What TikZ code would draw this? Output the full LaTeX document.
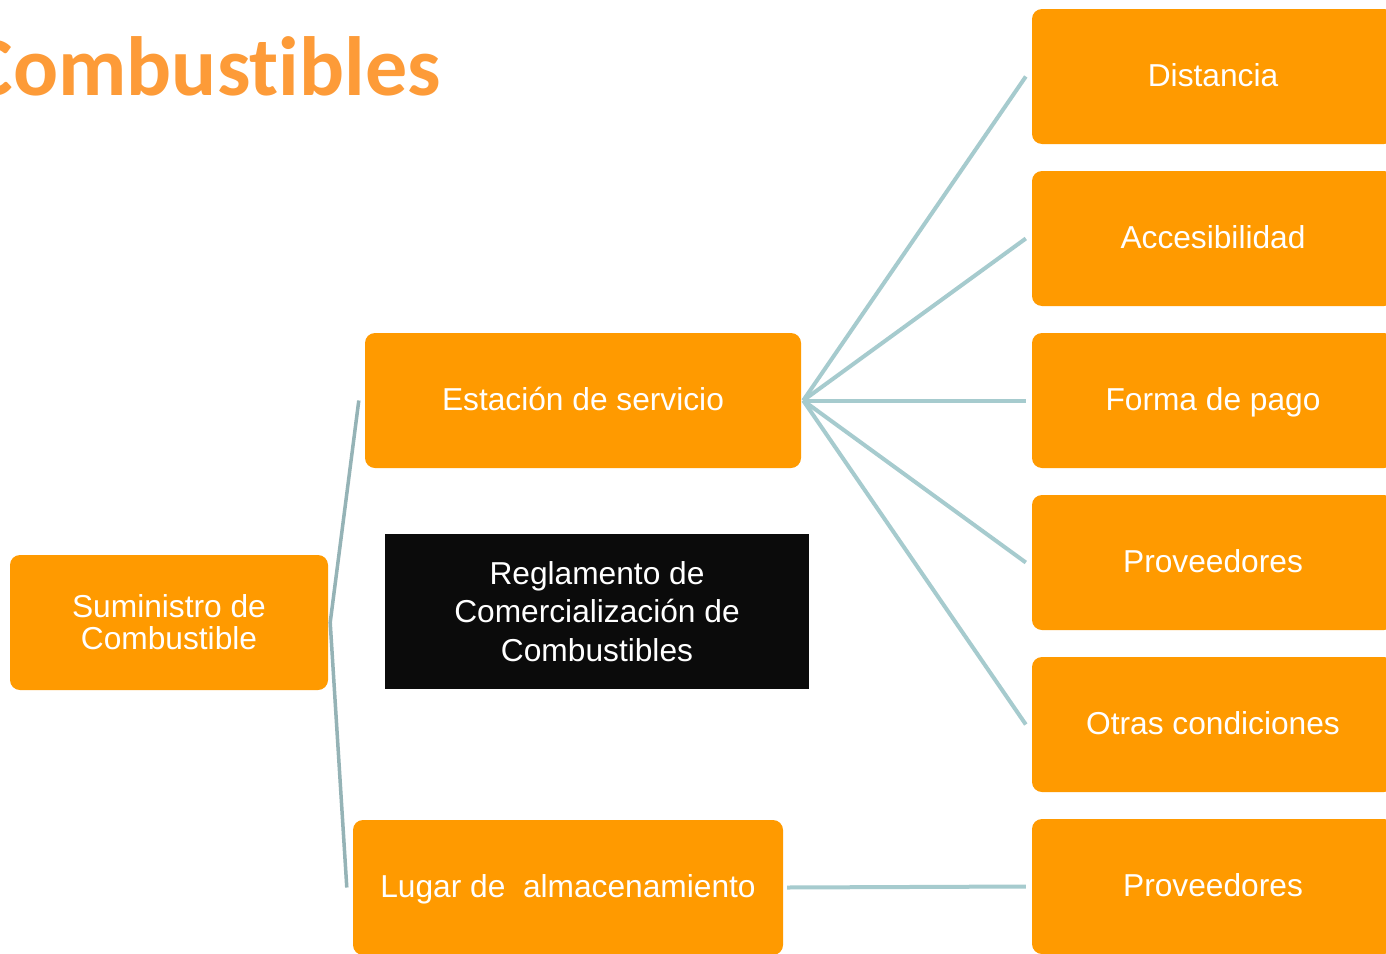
\documentclass[tikz,border=0pt]{standalone}
\usepackage{fontspec}
\setmainfont{Liberation Sans}
\newfontfamily\titlefont[Ligatures={NoCommon}]{Carlito}
\usetikzlibrary{calc}
\definecolor{boxorange}{HTML}{FF9A00}
\definecolor{titleorange}{HTML}{FD9B38}
\definecolor{fanline}{HTML}{A6CBCE}
\definecolor{treeline}{HTML}{95B3B6}
\definecolor{blackbox}{HTML}{0B0B0B}
\tikzset{
  obox/.style={rectangle, rounded corners=10pt, fill=boxorange, draw=none, text=white,
    align=center, inner sep=0pt, font=\fontsize{31.7}{33}\selectfont},
  oneline/.style={text height=23pt, text depth=4pt},
  fan/.style={draw=fanline, line width=4pt},
  tree/.style={draw=treeline, line width=3.5pt},
}
\begin{document}
\begin{tikzpicture}[x=1pt,y=-1pt]
\useasboundingbox (0,0) rectangle (1386,953);
\clip (0,0) rectangle (1386,953);
\fill[white] (0,0) rectangle (1386,953);

\node[anchor=base east, inner sep=0pt, text=titleorange, font=\titlefont\bfseries\fontsize{84}{90}\selectfont] (title) at (441,95) {Combustibles};

\node[obox, minimum width=318pt, minimum height=135pt] (sum) at (169,622.5) {Suministro de\\[-1pt]Combustible};
\node[obox, oneline, minimum width=436pt, minimum height=135pt] (est) at (583,400.5) {Estación de servicio};
\node[rectangle, fill=blackbox, text=white, align=center, inner sep=0pt, minimum width=424pt, minimum height=155pt, font=\fontsize{31.7}{38.5}\selectfont] (reg) at (597,611.5) {Reglamento de\\Comercialización de\\Combustibles};
\node[obox, oneline, minimum width=430pt, minimum height=135pt] (lug) at (568,887.5) {Lugar de\ \ almacenamiento};

\node[obox, oneline, minimum width=362pt, minimum height=135pt] (dist) at (1213,76.5) {Distancia};
\node[obox, oneline, minimum width=362pt, minimum height=135pt] (acc) at (1213,238.5) {Accesibilidad};
\node[obox, oneline, minimum width=362pt, minimum height=135pt] (pago) at (1213,400.5) {Forma de pago};
\node[obox, oneline, minimum width=362pt, minimum height=135pt] (prov) at (1213,562.5) {Proveedores};
\node[obox, oneline, minimum width=362pt, minimum height=135pt] (otras) at (1213,724.5) {Otras condiciones};
\node[obox, oneline, minimum width=362pt, minimum height=135pt] (prov2) at (1213,886.5) {Proveedores};

\coordinate (hub) at ($(est.east)+(2,0)$);
\foreach \t in {dist,acc,pago,prov,otras}{
  \draw[fan] (hub) -- ($(\t.west)+(-6,0)$);
}
\draw[fan] ($(lug.east)+(4,0)$) -- ($(prov2.west)+(-6,0)$);

\coordinate (root) at ($(sum.east)+(2,0)$);
\draw[tree] ($(est.west)+(-6,0)$) -- (root) -- ($(lug.west)+(-6,0)$);
\end{tikzpicture}
\end{document}
